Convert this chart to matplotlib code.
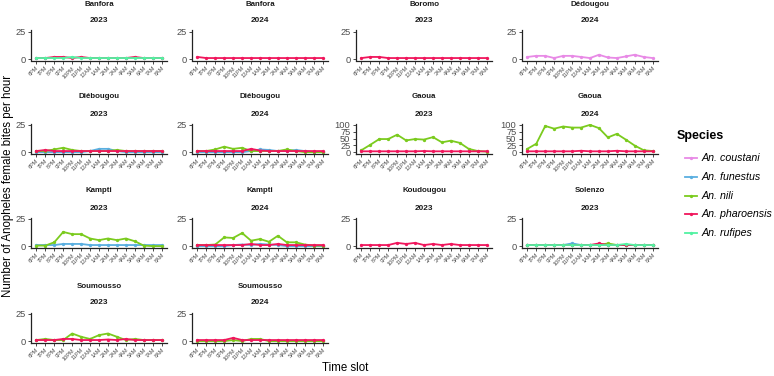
import matplotlib
matplotlib.use("Agg")
import matplotlib.pyplot as plt
from matplotlib.lines import Line2D

plt.rcParams['font.family'] = ['Liberation Sans', 'DejaVu Sans']

slots = ['6PM', '7PM', '8PM', '9PM', '10PM', '11PM', '12AM', '1AM', '2AM',
         '3AM', '4AM', '5AM', '6AM', '7AM', '8AM']

species = ['An. coustani', 'An. funestus', 'An. nili', 'An. pharoensis', 'An. rufipes']
colors = ['#E88AE6', '#5AAFE0', '#7BCB1E', '#F0165C', '#52F2A2']

panels = [('Banfora', '2023'), ('Banfora', '2024'), ('Boromo', '2023'), ('Dédougou', '2024'),
          ('Diébougou', '2023'), ('Diébougou', '2024'), ('Gaoua', '2023'), ('Gaoua', '2024'),
          ('Kampti', '2023'), ('Kampti', '2024'), ('Koudougou', '2023'), ('Solenzo', '2023'),
          ('Soumousso', '2023'), ('Soumousso', '2024')]

# bites per hour
banfora23_phar = [1, 1, 2, 2, 1, 2, 1, 1, 1, 1, 1, 2, 1, 1, 1]
banfora23_ruf = [1, 1, 1, 1, 2, 1, 1, 1, 1, 1, 1, 1, 1, 1, 1]
banfora24_phar = [2, 1, 1, 1, 1, 1, 1, 1, 1, 1, 1, 1, 1, 1, 1]
boromo23_phar = [1, 2, 2, 1, 1, 1, 1, 1, 1, 1, 1, 1, 1, 1, 1]
dedougou24_cou = [2, 3, 3, 1, 3, 3, 2, 1, 4, 1.5, 1, 2.5, 4, 2, 1]
diebougou23_fun = [0, 0, 0, 0, 0, 0, 1, 3, 3, 1, 0, 0, 0, 0, 0]
diebougou23_nili = [1, 1, 2.5, 4, 2, 1, 1, 1, 1, 2, 1, 1, 1, 1, 1]
diebougou23_phar = [1, 2, 1, 1, 1, 1, 1, 1, 1, 1, 1, 1, 1, 1, 1]
diebougou24_fun = [0, 0, 0, 0, 0, 0, 1, 2.5, 2, 1, 1, 2, 1, 0, 0]
diebougou24_nili = [1, 1, 2.5, 5, 3, 4, 1, 1, 1, 1, 2.5, 1, 0, 0, 0]
diebougou24_phar = [1, 1, 1, 1, 1, 1, 3, 1.5, 1, 1, 1, 1, 1, 1, 1]
gaoua23_nili = [7, 27, 48, 48, 64, 43, 48, 46, 55, 36, 42, 34, 12, 4, 2]
gaoua23_phar = [3, 3, 3, 3, 3, 3, 3, 4, 3, 3, 3, 3, 3, 3, 3]
gaoua24_nili = [12, 31, 96, 86, 94, 90, 90, 100, 88, 54, 67, 46, 24, 7, 4]
gaoua24_phar = [3, 3, 3, 3, 3, 3, 5, 3, 3, 3, 5, 3, 3, 3, 3]
kampti23_fun = [1, 1, 1, 2, 2, 2, 1, 1, 1, 1, 1, 1, 1, 1, 1]
kampti23_nili = [0.5, 0.5, 3.5, 13, 11, 11, 7, 5.5, 7, 5.5, 7, 4.5, 0.5, 0, 0]
kampti24_fun = [0, 0, 0, 0, 1, 1.5, 1, 2, 1.5, 1, 0, 0, 0, 0, 0]
kampti24_nili = [1, 1, 1.5, 8, 7.5, 12, 5, 6.5, 4, 9.5, 3.5, 3.5, 1.5, 0.5, 0.5]
kampti24_phar = [1, 1, 1, 1, 1, 1, 2, 1, 1, 2, 1, 1, 1, 1, 1]
koudougou23_phar = [1, 1, 1, 1, 3, 2, 3, 1, 2, 1, 2, 1, 1, 1, 1]
solenzo23_fun = [1, 1, 1, 1, 1, 2.5, 1, 1, 1, 1, 1, 1, 1, 1, 1]
solenzo23_nili = [1, 1, 1, 1, 1, 1, 1, 1, 1, 2.5, 1, 1, 1, 1, 1]
solenzo23_phar = [1, 1, 1, 1, 1, 1, 1, 1, 2.5, 1, 1, 1, 1, 1, 1]
solenzo23_ruf = [1, 1, 1, 1, 1, 1, 1, 1, 1, 1, 1, 2, 1, 1, 1]
soumousso23_nili = [1, 2, 1, 1, 7, 4, 2, 5.5, 7, 4, 1, 2, 1, 1, 1]
soumousso23_phar = [1, 1, 1, 2, 2, 1, 1, 1, 1.5, 1, 2, 1, 1, 1, 1]
soumousso24_nili = [0, 0, 0, 0, 1, 0, 2, 2, 0, 0, 0, 0, 0, 0, 0]
soumousso24_phar = [1, 1, 1, 1, 3, 1, 1, 1, 1, 1, 1, 1, 1, 1, 1]

data = {
    ('Banfora', '2023'): {'An. pharoensis': banfora23_phar, 'An. rufipes': banfora23_ruf},
    ('Banfora', '2024'): {'An. pharoensis': banfora24_phar},
    ('Boromo', '2023'): {'An. pharoensis': boromo23_phar},
    ('Dédougou', '2024'): {'An. coustani': dedougou24_cou},
    ('Diébougou', '2023'): {'An. funestus': diebougou23_fun, 'An. nili': diebougou23_nili,
                            'An. pharoensis': diebougou23_phar},
    ('Diébougou', '2024'): {'An. funestus': diebougou24_fun, 'An. nili': diebougou24_nili,
                            'An. pharoensis': diebougou24_phar},
    ('Gaoua', '2023'): {'An. nili': gaoua23_nili, 'An. pharoensis': gaoua23_phar},
    ('Gaoua', '2024'): {'An. nili': gaoua24_nili, 'An. pharoensis': gaoua24_phar},
    ('Kampti', '2023'): {'An. funestus': kampti23_fun, 'An. nili': kampti23_nili},
    ('Kampti', '2024'): {'An. funestus': kampti24_fun, 'An. nili': kampti24_nili,
                         'An. pharoensis': kampti24_phar},
    ('Koudougou', '2023'): {'An. pharoensis': koudougou23_phar},
    ('Solenzo', '2023'): {'An. funestus': solenzo23_fun, 'An. nili': solenzo23_nili,
                          'An. pharoensis': solenzo23_phar, 'An. rufipes': solenzo23_ruf},
    ('Soumousso', '2023'): {'An. nili': soumousso23_nili, 'An. pharoensis': soumousso23_phar},
    ('Soumousso', '2024'): {'An. nili': soumousso24_nili, 'An. pharoensis': soumousso24_phar},
}

W, H = 774, 376
fig = plt.figure(figsize=(W / 100, H / 100), dpi=100)

col_x = [31, 192, 356, 522]
row_top = [30.5, 123.5, 217.5, 312.5]
pw, ph = 136, 30
grey = '#4D4D4D'

for k, key in enumerate(panels):
    r, c = divmod(k, 4)
    x0, y0 = col_x[c], row_top[r]
    ax = fig.add_axes([x0 / W, 1 - (y0 + ph) / H, pw / W, ph / H])
    for sp, col in zip(species, colors):
        if sp in data[key]:
            ax.plot(range(len(slots)), data[key][sp], color=col, lw=1.3,
                    marker='o', ms=2.4, mew=0)
    ax.set_xlim(-0.6, len(slots) - 0.4)
    if key[0] == 'Gaoua':
        ax.set_ylim(-5, 105)
        ax.set_yticks([0, 25, 50, 75, 100])
    else:
        ax.set_ylim(-1.25, 26.25)
        ax.set_yticks([0, 25])
    ax.set_xticks(range(len(slots)))
    ax.set_xticklabels(slots, rotation=45, ha='right', va='top',
                       rotation_mode='anchor', fontsize=4, color=grey)
    ax.tick_params(axis='y', labelsize=6.7, labelcolor=grey, length=2, width=0.5, pad=2)
    ax.tick_params(axis='x', length=2, width=0.5, pad=1.5)
    for s in ['top', 'right']:
        ax.spines[s].set_visible(False)
    for s in ['left', 'bottom']:
        ax.spines[s].set_color('#222222')
        ax.spines[s].set_linewidth(0.9)
    ax.set_facecolor('none')
    cx = (x0 + pw / 2) / W
    fig.text(cx, 1 - (y0 - 26.5) / H, key[0], ha='center', va='center',
             fontsize=5.7, fontweight='bold', color='#1A1A1A')
    fig.text(cx, 1 - (y0 - 9.5) / H, key[1], ha='center', va='center',
             fontsize=5.9, fontweight='bold', color='#1A1A1A')

fig.text(8 / W, 1 - 186 / H, 'Number of Anopheles female bites per hour',
         rotation=90, ha='center', va='center', fontsize=8.3)
fig.text(345 / W, 1 - 368 / H, 'Time slot', ha='center', va='center', fontsize=8.3)

# legend drawn by hand so the spacing follows the reference
fig.text(677 / W, 1 - 136 / H, 'Species', ha='left', va='center',
         fontsize=9, fontweight='bold')
for i, (sp, col) in enumerate(zip(species, colors)):
    yy = 1 - (158 + 18.75 * i) / H
    fig.add_artist(Line2D([685 / W, 697 / W], [yy, yy], color=col, lw=1.3,
                          transform=fig.transFigure))
    fig.add_artist(Line2D([691 / W], [yy], color=col, marker='o', ms=2.4, mew=0,
                          transform=fig.transFigure))
    fig.text(702 / W, yy, sp, ha='left', va='center', fontsize=7.7, fontstyle='italic')

fig.savefig('out.png', dpi=100)
